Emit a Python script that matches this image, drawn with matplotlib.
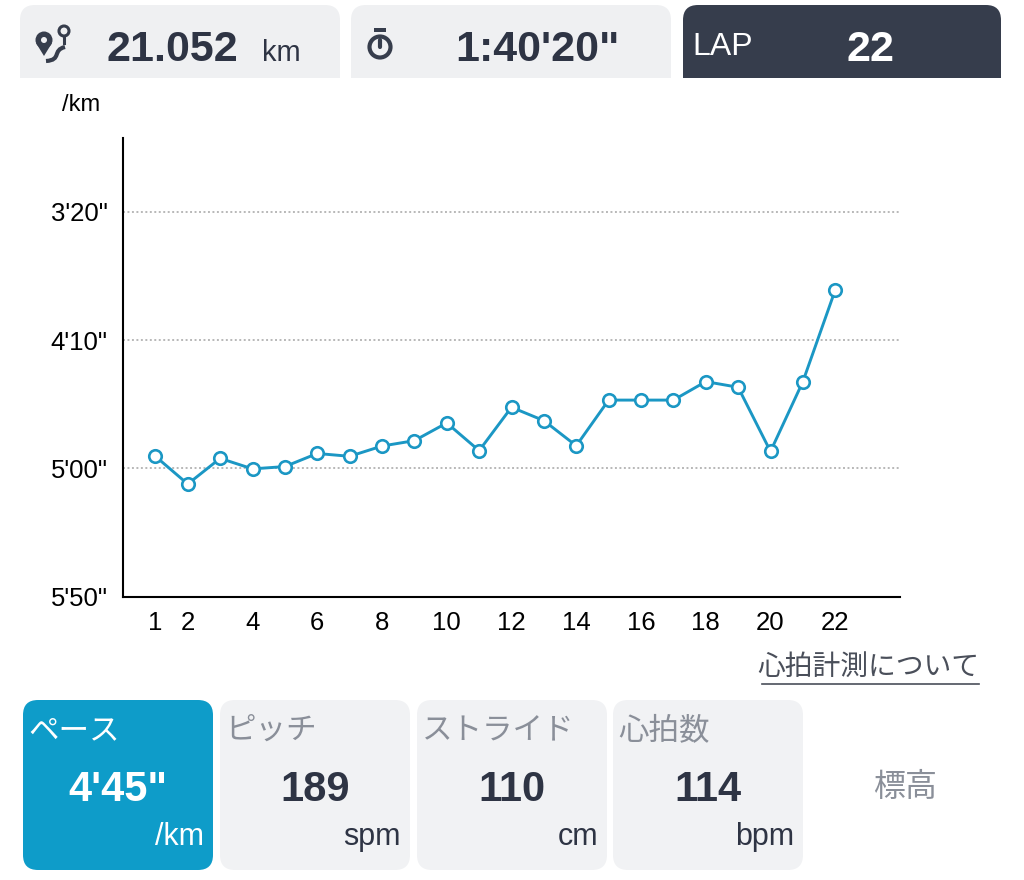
import matplotlib
matplotlib.use('Agg')
import matplotlib.pyplot as plt
from matplotlib.patches import FancyBboxPatch, Rectangle, Circle, Polygon
from matplotlib.path import Path
from matplotlib.patches import PathPatch

# 日本語も出るようにフォントを並べる
plt.rcParams['font.family'] = ['Liberation Sans', 'Noto Sans CJK JP', 'DejaVu Sans']

# ============ データ ============
laps = list(range(1, 23))
# 各ラップのペース（秒/km）
pace_sec = [295.3, 306.1, 296.1, 300.2, 299.3, 294.2, 295.3, 291.3, 289.2, 282.3, 293.1,
            276.2, 281.4, 291.2, 273.4, 273.4, 273.4, 266.2, 268.4, 293.4, 266.2, 230.5]
x_ticks = [1, 2, 4, 6, 8, 10, 12, 14, 16, 18, 20, 22]
y_ticks = [200, 250, 300, 350]
y_tick_labels = ["3'20\"", "4'10\"", "5'00\"", "5'50\""]

top_values = ['21.052', "1:40'20\"", '22']
top_units = ['km', '', 'LAP']
card_titles = ['ペース', 'ピッチ', 'ストライド', '心拍数']
card_values = ["4'45\"", '189', '110', '114']
card_units = ['/km', 'spm', 'cm', 'bpm']

DARK = '#2e3444'
NAVY = '#363d4c'
BLUE = '#0e9cc9'
LINE = '#1b97c4'
LIGHT = '#eff0f2'
GRAY = '#8a8f99'

fig = plt.figure(figsize=(10.24, 8.8), dpi=100)

# 背景用の軸（ピクセル座標、y は下向き）
bg = fig.add_axes([0, 0, 1, 1])
bg.set_xlim(0, 1024)
bg.set_ylim(880, 0)
bg.axis('off')


def box(x, y, w, h, color, flat_bottom=False):
    bg.add_patch(FancyBboxPatch((x, y), w, h, boxstyle='round,pad=0,rounding_size=15',
                                fc=color, ec='none'))
    if flat_bottom:
        bg.add_patch(Rectangle((x, y + h / 2), w, h / 2, fc=color, ec='none'))


# ============ 上の3つのボックス ============
box(20, 5, 320, 73, LIGHT, True)
box(351, 5, 320, 73, LIGHT, True)
box(683, 5, 318, 73, NAVY, True)

# 距離アイコン（ピン＋道）
bg.add_patch(Circle((44, 40), 8.5, fc=NAVY, ec='none'))
bg.add_patch(Polygon([[36, 43], [52, 43], [44, 56]], closed=True, fc=NAVY, ec='none'))
bg.add_patch(Circle((44, 40), 3, fc=LIGHT, ec='none'))
bg.add_patch(Circle((64, 31), 5, fc='none', ec=NAVY, lw=2.2))
bg.plot([64, 64], [36, 43], color=NAVY, lw=2.2)
road = Path([(46, 61), (62, 60), (52, 50), (65, 47)],
            [Path.MOVETO, Path.CURVE4, Path.CURVE4, Path.CURVE4])
bg.add_patch(PathPatch(road, fc='none', ec=NAVY, lw=3))

# ストップウォッチアイコン
bg.add_patch(Circle((380, 47), 10.5, fc='none', ec=NAVY, lw=3))
bg.plot([380, 380], [40, 47], color=NAVY, lw=3, solid_capstyle='round')
bg.add_patch(Rectangle((374, 28), 12, 4, fc=NAVY, ec='none'))

bg.text(107, 61, top_values[0], fontsize=31, fontweight='bold', color=DARK, va='baseline')
bg.text(262, 61, top_units[0], fontsize=21, color=DARK, va='baseline')
bg.text(455, 61, top_values[1], fontsize=31, fontweight='bold', color=DARK, va='baseline')
bg.text(692, 55, top_units[2], fontsize=23, color='white', va='baseline')
bg.text(871, 61, top_values[2], fontsize=31, fontweight='bold', color='white',
        va='baseline', ha='center')

bg.text(62, 105, '/km', fontsize=17, color='black', va='center')

# ============ グラフ ============
ax = fig.add_axes([123 / 1024, 1 - 596.7 / 880, 777 / 1024, 458.4 / 880])
ax.patch.set_alpha(0)
ax.plot(laps, pace_sec, color=LINE, lw=2.1, marker='o', markersize=9,
        markerfacecolor='white', markeredgecolor=LINE, markeredgewidth=1.9, zorder=3)
ax.set_xlim(0, 24)
ax.set_ylim(350, 171.4)
ax.set_xticks(x_ticks)
ax.set_yticks(y_ticks)
ax.set_yticklabels(y_tick_labels)
ax.tick_params(length=0, labelsize=18.5)
ax.tick_params(axis='y', pad=11)
ax.tick_params(axis='x', pad=10)
for s in ['top', 'right']:
    ax.spines[s].set_visible(False)
for s in ['left', 'bottom']:
    ax.spines[s].set_linewidth(1.5)
    ax.spines[s].set_color('black')
ax.grid(axis='y', color='#b8b8b8', lw=1.4, linestyle=(0, (1, 1.3)))
ax.set_axisbelow(True)

bg.text(979, 668, '心拍計測について', fontsize=20, color='#4a4f5a', ha='right', va='center')
bg.plot([762, 979], [684, 684], color='#4a4f5a', lw=1.2)

# ============ 下のカード ============
lefts = [23, 220, 417, 613]
for i in range(4):
    x0 = lefts[i]
    if i == 0:
        box(x0, 700, 190, 170, BLUE)
        c_title, c_val, c_unit = 'white', 'white', 'white'
    else:
        box(x0, 700, 190, 170, '#f1f2f4')
        c_title, c_val, c_unit = GRAY, DARK, DARK
    bg.text(x0 + 5, 731, card_titles[i], fontsize=22, color=c_title, va='center')
    bg.text(x0 + 95, 801, card_values[i], fontsize=30, fontweight='bold', color=c_val,
            ha='center', va='baseline')
    bg.text(x0 + 181, 845, card_units[i], fontsize=22, color=c_unit, ha='right', va='baseline')

bg.text(905, 788, '標高', fontsize=23, color=GRAY, ha='center', va='center')

fig.savefig('out.png', dpi=100)
